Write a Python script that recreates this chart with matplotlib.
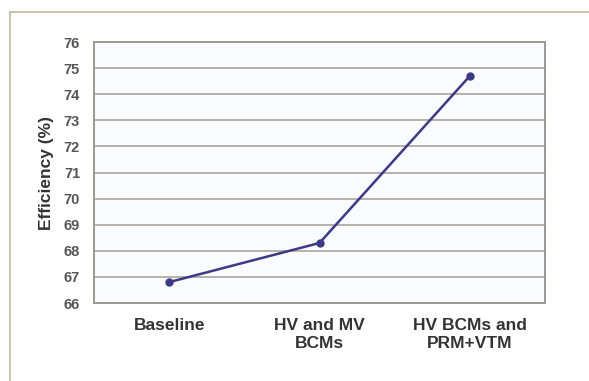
import matplotlib.pyplot as plt
from matplotlib.lines import Line2D

categories = ["Baseline", "HV and MV\nBCMs", "HV BCMs and\nPRM+VTM"]
efficiency = [66.8, 68.3, 74.7]
y_ticks = list(range(66, 77))

plt.rcParams['font.family'] = ['Liberation Sans', 'DejaVu Sans']

fig = plt.figure(figsize=(5.89, 3.81), dpi=100)
fig.patch.set_facecolor("white")

# thin tan frame along the top and left edges
frame_color = "#c9b99c"
fig.add_artist(Line2D([0.017, 1.0], [0.969, 0.969], transform=fig.transFigure,
                      color=frame_color, lw=1.2))
fig.add_artist(Line2D([0.017, 0.017], [0.0, 0.969], transform=fig.transFigure,
                      color=frame_color, lw=1.2))

ax = fig.add_axes([0.1596, 0.2047, 0.7657, 0.685])
ax.set_facecolor("#fafbfc")

x = list(range(len(categories)))
ax.plot(x, efficiency, color="#3b3a86", lw=1.8, marker="o", markersize=5,
        zorder=3)

ax.set_ylim(66, 76)
ax.set_yticks(y_ticks)
ax.set_xlim(-0.5, 2.5)
ax.set_xticks(x)
ax.set_xticklabels(categories, fontsize=12.5, fontweight="bold", color="#333333",
                   linespacing=1.25)
ax.tick_params(axis="y", length=0, pad=10)
ax.tick_params(axis="x", length=0, pad=11)
for lab in ax.get_yticklabels():
    lab.set_color("#555555")
    lab.set_fontsize(10.5)
    lab.set_fontweight("bold")

ax.grid(axis="y", color="#a59d98", lw=1.1)
ax.set_axisbelow(True)
for sp in ax.spines.values():
    sp.set_color("#9c9894")
    sp.set_linewidth(1.4)

ax.set_ylabel("Efficiency (%)", fontsize=12.5, fontweight="bold", color="#333333")
ax.yaxis.set_label_coords(-0.088, 0.5)

fig.savefig("out.png", dpi=100)
